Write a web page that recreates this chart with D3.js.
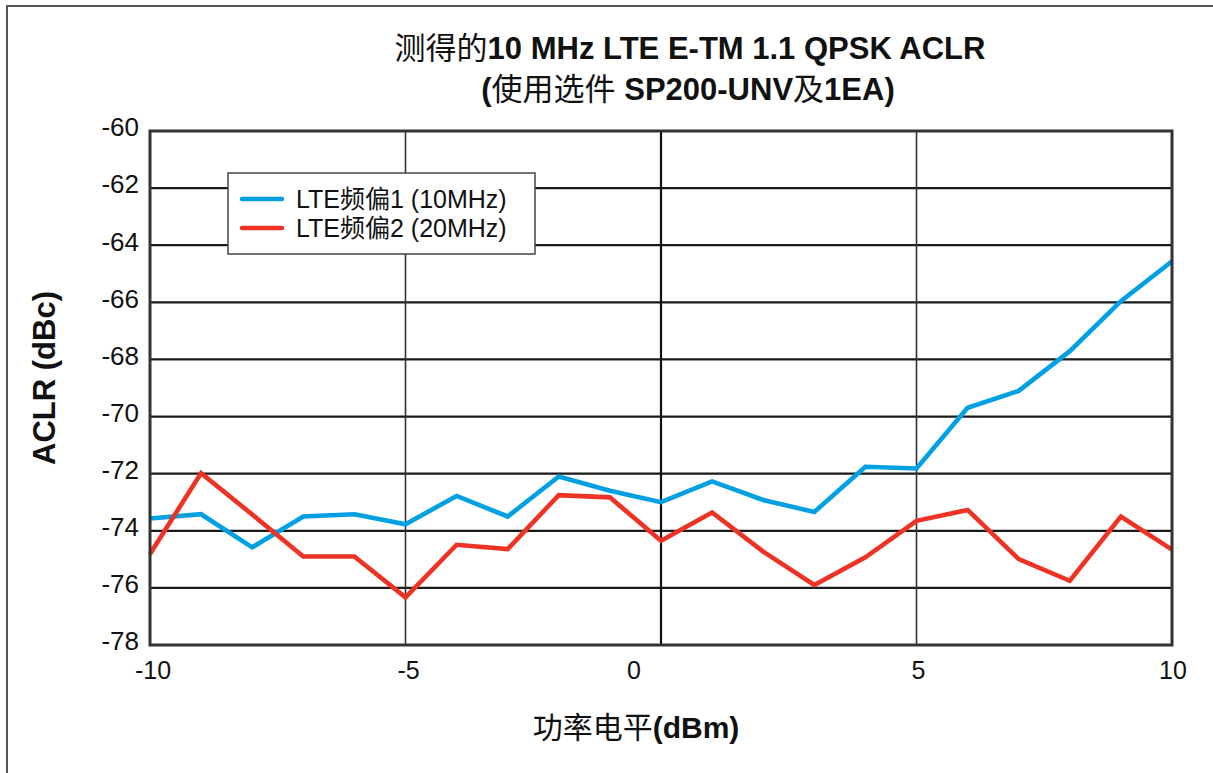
<!DOCTYPE html>
<html>
<head>
<meta charset="utf-8">
<script src="https://cdn.jsdelivr.net/npm/d3@7"></script>
<style>
  html, body { margin: 0; padding: 0; background: #fff; }
  svg { display: block; }
  text { font-family: "Liberation Sans", Arial, "Noto Sans CJK SC", sans-serif; fill: #111; }
</style>
</head>
<body>
<svg id="chart" width="1213" height="773"></svg>
<script>
// ---- data ----
const powerLevels = [-10, -9, -8, -7, -6, -5, -4, -3, -2, -1, 0, 1, 2, 3, 4, 5, 6, 7, 8, 9, 10];
const offset1Values = [-73.57, -73.42, -74.58, -73.5, -73.42, -73.77, -72.78, -73.5, -72.1, -72.6, -73.0,
                       -72.27, -72.92, -73.34, -71.76, -71.82, -69.69, -69.1, -67.71, -65.96, -64.56];
const offset2Values = [-74.81, -71.98, -73.43, -74.9, -74.9, -76.33, -74.49, -74.64, -72.75, -72.83, -74.35,
                       -73.36, -74.73, -75.9, -74.93, -73.65, -73.27, -74.99, -75.75, -73.5, -74.66];
const seriesNames = ["LTE频偏1 (10MHz)", "LTE频偏2 (20MHz)"];
const seriesColors = ["#00A0E3", "#EE3224"];
const xTicks = [-10, -5, 0, 5, 10];
const yTicks = [-60, -62, -64, -66, -68, -70, -72, -74, -76, -78];
const titleLines = ["测得的10 MHz LTE E-TM 1.1 QPSK ACLR", "(使用选件 SP200-UNV及1EA)"];
const yTitle = "ACLR (dBc)";
const xTitleCn = "功率电平";
const xTitleUnit = "(dBm)";

// ---- layout ----
const W = 1213, H = 773;
const plot = { left: 150, right: 1172, top: 131, bottom: 645 };
const svg = d3.select("#chart");

const x = d3.scaleLinear().domain([-10, 10]).range([plot.left, plot.right]);
const y = d3.scaleLinear().domain([-78, -60]).range([plot.bottom, plot.top]);

// outer frame (top and left edges)
svg.append("path")
  .attr("d", `M7,${H} L7,6 L${W},6`)
  .attr("fill", "none").attr("stroke", "#555").attr("stroke-width", 2);

// titles: Latin runs bold, CJK runs regular weight
function addMixedTitle(str, cx, cy) {
  const t = svg.append("text").attr("x", cx).attr("y", cy).attr("text-anchor", "middle")
    .attr("font-size", 31);
  const runs = str.match(/[\u3400-\u9fff]+|[^\u3400-\u9fff]+/g);
  runs.forEach(r => {
    const isCjk = /[\u3400-\u9fff]/.test(r);
    t.append("tspan").attr("font-weight", isCjk ? "normal" : "bold").text(r);
  });
}
addMixedTitle(titleLines[0], 690, 59);
addMixedTitle(titleLines[1], 688, 100);

// horizontal grid
const gridG = svg.append("g");
gridG.selectAll("line.h").data(yTicks.filter(d => d !== -60 && d !== -78)).join("line")
  .attr("class", "h")
  .attr("x1", plot.left).attr("x2", plot.right)
  .attr("y1", d => y(d)).attr("y2", d => y(d))
  .attr("stroke", "#1a1a1a").attr("stroke-width", 2.2);
// vertical grid
gridG.selectAll("line.v").data(xTicks.filter(d => d !== -10 && d !== 10)).join("line")
  .attr("class", "v")
  .attr("x1", d => x(d)).attr("x2", d => x(d))
  .attr("y1", plot.top).attr("y2", plot.bottom)
  .attr("stroke", d => d === 0 ? "#111" : "#333")
  .attr("stroke-width", d => d === 0 ? 2.2 : 1.6);

// legend box
const leg = svg.append("g");
leg.append("rect").attr("x", 228).attr("y", 173).attr("width", 307).attr("height", 81)
  .attr("fill", "#fff").attr("stroke", "#444").attr("stroke-width", 1.5);
seriesNames.forEach((name, i) => {
  const ly = 199 + i * 29;
  leg.append("line").attr("x1", 242).attr("x2", 282).attr("y1", ly).attr("y2", ly)
    .attr("stroke", seriesColors[i]).attr("stroke-width", 4.5).attr("stroke-linecap", "round");
  leg.append("text").attr("x", 296).attr("y", ly + 9).attr("font-size", 25).text(name);
});

// series lines
const line = d3.line().x((d, i) => x(powerLevels[i])).y(d => y(d));
[offset1Values, offset2Values].forEach((vals, i) => {
  svg.append("path").datum(vals)
    .attr("d", line)
    .attr("fill", "none")
    .attr("stroke", seriesColors[i])
    .attr("stroke-width", 4.6)
    .attr("stroke-linejoin", "miter");
});

// plot border
svg.append("rect")
  .attr("x", plot.left).attr("y", plot.top)
  .attr("width", plot.right - plot.left).attr("height", plot.bottom - plot.top)
  .attr("fill", "none").attr("stroke", "#333").attr("stroke-width", 3);

// y tick labels
svg.append("g").selectAll("text").data(yTicks).join("text")
  .attr("x", 139).attr("y", d => y(d) - 4)
  .attr("dy", "0.36em")
  .attr("text-anchor", "end").attr("font-size", 26)
  .text(d => d);

// x tick labels
const xLabelShift = { "-10": 3, "-5": 3, "0": -27, "5": 2, "10": 1 };
svg.append("g").selectAll("text").data(xTicks).join("text")
  .attr("x", d => x(d) + xLabelShift[String(d)]).attr("y", 679)
  .attr("text-anchor", "middle").attr("font-size", 25)
  .text(d => d);

// axis titles
svg.append("text")
  .attr("transform", "translate(55,378) rotate(-90)")
  .attr("text-anchor", "middle").attr("font-size", 31).attr("font-weight", "bold")
  .text(yTitle);

const xt = svg.append("text").attr("x", 636).attr("y", 738)
  .attr("text-anchor", "middle").attr("font-size", 30);
xt.append("tspan").text(xTitleCn);
xt.append("tspan").attr("font-weight", "bold").text(xTitleUnit);
</script>
</body>
</html>
